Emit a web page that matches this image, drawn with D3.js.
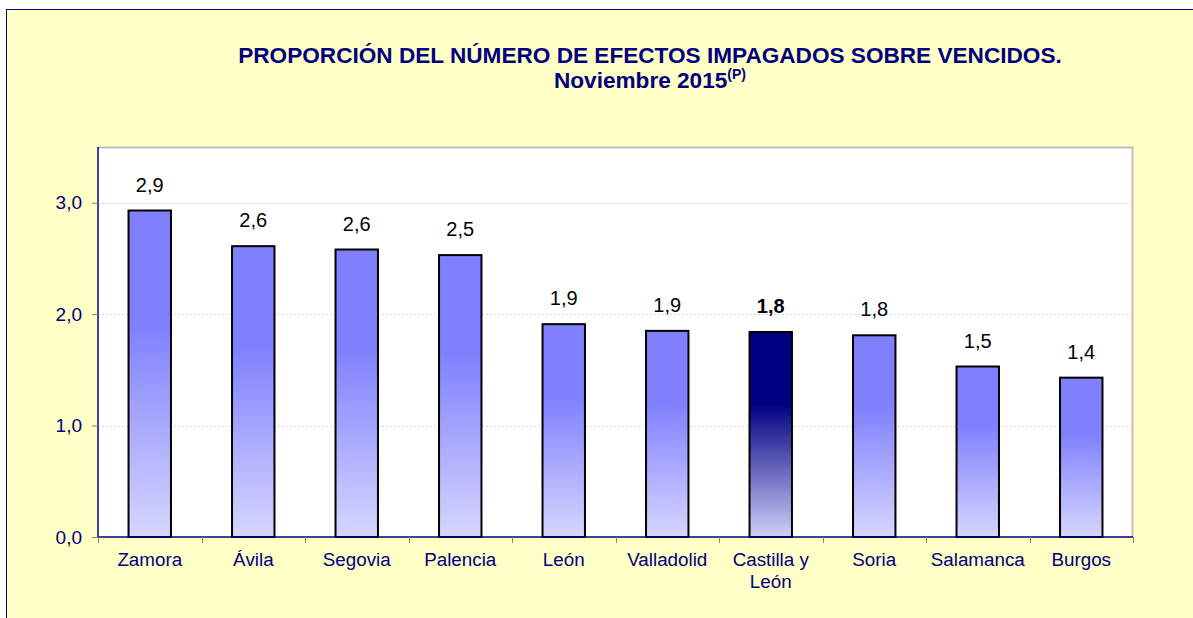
<!DOCTYPE html>
<html>
<head>
<meta charset="utf-8">
<script src="https://cdn.jsdelivr.net/npm/d3@7"></script>
<style>
  body { margin: 0; background: #fff; }
  svg text { font-family: "Liberation Sans", Arial, sans-serif; }
</style>
</head>
<body>
<div id="chart"></div>
<script>
// data
var provincias = ["Zamora", "Ávila", "Segovia", "Palencia", "León", "Valladolid", "Castilla y León", "Soria", "Salamanca", "Burgos"];
var valores = [2.93, 2.61, 2.58, 2.53, 1.91, 1.85, 1.84, 1.81, 1.53, 1.43];
var etiquetas = ["2,9", "2,6", "2,6", "2,5", "1,9", "1,9", "1,8", "1,8", "1,5", "1,4"];
var yTicks = [0, 1, 2, 3];
var destacado = "Castilla y León";

var W = 1193, H = 618;
var margin = {top: 147, right: 60, bottom: 81, left: 98},
    width = W - margin.left - margin.right,
    height = H - margin.top - margin.bottom;

var svg = d3.select("#chart").append("svg")
    .attr("width", W).attr("height", H);

// gradients
var defs = svg.append("defs");
function grad(id, top, bottom){
  var g = defs.append("linearGradient").attr("id", id)
      .attr("x1", 0).attr("y1", 0).attr("x2", 0).attr("y2", 1);
  g.append("stop").attr("offset", "0%").attr("stop-color", top);
  g.append("stop").attr("offset", "35%").attr("stop-color", top);
  g.append("stop").attr("offset", "100%").attr("stop-color", bottom);
}
grad("gNormal", "#8080ff", "#d6d6ff");
grad("gDest", "#000080", "#d0d0f8");

// outer frame
svg.append("rect")
  .attr("x", 6.5).attr("y", 9.5)
  .attr("width", 1250).attr("height", 700)
  .attr("fill", "#ffffc6")
  .attr("stroke", "#000080").attr("stroke-width", 1);

// title
svg.append("text")
  .attr("x", 650).attr("y", 63)
  .attr("text-anchor", "middle")
  .attr("font-weight", "bold").attr("font-size", 22.6)
  .attr("fill", "#000080")
  .text("PROPORCIÓN DEL NÚMERO DE EFECTOS IMPAGADOS SOBRE VENCIDOS.");
var t2 = svg.append("text")
  .attr("x", 650).attr("y", 88)
  .attr("text-anchor", "middle")
  .attr("font-weight", "bold").attr("font-size", 22.6)
  .attr("fill", "#000080");
t2.append("tspan").text("Noviembre 2015");
t2.append("tspan").attr("font-size", 14).attr("dy", -9).text("(P)");

var g = svg.append("g")
  .attr("transform", "translate(" + margin.left + "," + margin.top + ")");

// plot area
g.append("rect")
  .attr("width", width).attr("height", height)
  .attr("fill", "#ffffff");
g.append("path")
  .attr("d", "M0,0.5H" + (width - 0.5) + "V" + height)
  .attr("fill", "none").attr("stroke", "#c0c0c0").attr("stroke-width", 2);

var x = d3.scaleBand()
    .domain(provincias)
    .range([0, width])
    .paddingInner(0.59)
    .paddingOuter(0.295);

var y = d3.scaleLinear()
    .domain([0, 3.5])
    .range([height, 0]);

// gridlines
g.selectAll("line.grid")
  .data(yTicks.filter(function(d){ return d > 0; }))
  .enter().append("line")
  .attr("class", "grid")
  .attr("x1", 0).attr("x2", width)
  .attr("y1", function(d){ return Math.round(y(d)) + 0.5; })
  .attr("y2", function(d){ return Math.round(y(d)) + 0.5; })
  .attr("stroke", "#d8d8d8").attr("stroke-dasharray", "2,2");

// bars
g.selectAll("rect.bar")
  .data(provincias)
  .enter().append("rect")
  .attr("class", "bar")
  .attr("x", function(d){ return x(d); })
  .attr("width", x.bandwidth())
  .attr("y", function(d, i){ return y(valores[i]); })
  .attr("height", function(d, i){ return height - y(valores[i]); })
  .attr("fill", function(d){ return d === destacado ? "url(#gDest)" : "url(#gNormal)"; })
  .attr("stroke", "#000").attr("stroke-width", 2);

// value labels
g.selectAll("text.val")
  .data(provincias)
  .enter().append("text")
  .attr("class", "val")
  .attr("x", function(d){ return x(d) + x.bandwidth() / 2; })
  .attr("y", function(d, i){ return y(valores[i]) - 19; })
  .attr("text-anchor", "middle")
  .attr("font-size", 20)
  .attr("font-weight", function(d){ return d === destacado ? "bold" : "normal"; })
  .attr("fill", "#000")
  .text(function(d, i){ return etiquetas[i]; });

// y axis
var yAxis = g.append("g")
  .call(d3.axisLeft(y).tickValues(yTicks).tickSize(6).tickPadding(10)
    .tickFormat(function(d){ return d3.format(".1f")(d).replace(".", ","); }));
yAxis.select(".domain").attr("stroke", "#000080").attr("stroke-width", 1.5)
  .attr("d", "M0," + height + "V0");
yAxis.selectAll(".tick line").attr("stroke", "#808080");
yAxis.selectAll(".tick text")
  .attr("fill", "#000080").attr("font-size", 19)
  .style("font-family", "Liberation Sans, Arial, sans-serif");

// x axis
var xg = g.append("g").attr("transform", "translate(0," + height + ")");
xg.append("line")
  .attr("x1", 0).attr("x2", width)
  .attr("stroke", "#000080").attr("stroke-width", 1.5);
xg.selectAll("line.sep")
  .data(d3.range(provincias.length + 1))
  .enter().append("line")
  .attr("class", "sep")
  .attr("x1", function(i){ return Math.round(i * x.step()) + 0.5; })
  .attr("x2", function(i){ return Math.round(i * x.step()) + 0.5; })
  .attr("y1", 0).attr("y2", 6)
  .attr("stroke", "#808080");

xg.selectAll("text.cat")
  .data(provincias)
  .enter().append("text")
  .attr("class", "cat")
  .attr("x", function(d){ return x(d) + x.bandwidth() / 2; })
  .attr("y", 29)
  .attr("text-anchor", "middle")
  .attr("font-size", 18.8)
  .attr("fill", "#000080")
  .each(function(d){
    var t = d3.select(this);
    var parts = d === "Castilla y León" ? ["Castilla y", "León"] : [d];
    parts.forEach(function(p, k){
      t.append("tspan")
        .attr("x", x(d) + x.bandwidth() / 2)
        .attr("dy", k === 0 ? 0 : 22)
        .text(p);
    });
  });
</script>
</body>
</html>
